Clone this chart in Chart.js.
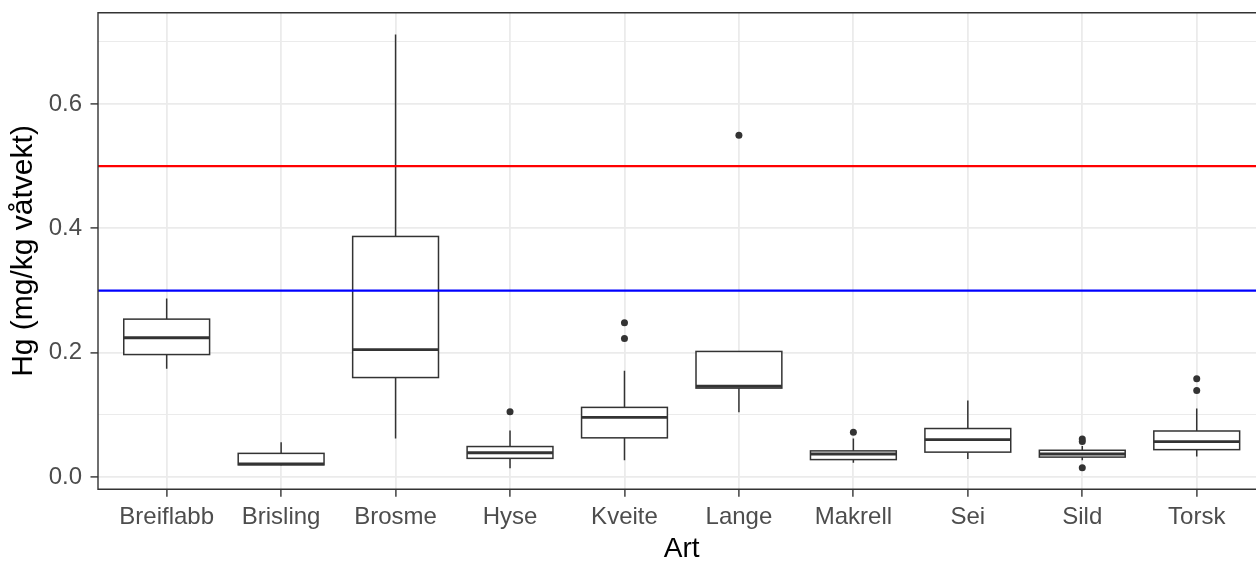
<!DOCTYPE html>
<html>
<head>
<meta charset="utf-8">
<script src="https://cdn.jsdelivr.net/npm/chart.js@4.4.1/dist/chart.umd.min.js"></script>
<style>
  html, body { margin: 0; padding: 0; background: #fff; overflow: hidden; }
  #wrap { width: 1280px; height: 563px; }
</style>
</head>
<body>
<div id="wrap"><canvas id="hgChart" width="1280" height="563"></canvas></div>
<script>
// Hg (mg/kg våtvekt) per art - boxplot stats
const species = ['Breiflabb', 'Brisling', 'Brosme', 'Hyse', 'Kveite', 'Lange', 'Makrell', 'Sei', 'Sild', 'Torsk'];
const whiskerLow  = [0.174, 0.019, 0.062, 0.014, 0.027, 0.104, 0.023, 0.029, 0.027, 0.033];
const q1          = [0.197, 0.0195, 0.160, 0.030, 0.063, 0.143, 0.028, 0.040, 0.032, 0.044];
const median      = [0.224, 0.021, 0.205, 0.039, 0.096, 0.146, 0.037, 0.060, 0.037, 0.057];
const q3          = [0.254, 0.038, 0.387, 0.049, 0.112, 0.202, 0.042, 0.078, 0.043, 0.074];
const whiskerHigh = [0.287, 0.056, 0.712, 0.075, 0.171, 0.202, 0.062, 0.123, 0.050, 0.110];

// outliers
const outlierArt = ['Hyse', 'Kveite', 'Kveite', 'Lange', 'Makrell', 'Sild', 'Sild', 'Sild', 'Torsk', 'Torsk'];
const outlierHg  = [0.105, 0.248, 0.223, 0.550, 0.072, 0.061, 0.057, 0.015, 0.158, 0.139];

// grenseverdier (horizontal lines)
const upperLimit = 0.5;
const lowerLimit = 0.3;

// axes
const yTickValues = [0.0, 0.2, 0.4, 0.6];
const yTickLabels = ['0.0', '0.2', '0.4', '0.6'];
const yMinorValues = [0.1, 0.3, 0.5, 0.7];
const yMin = -0.0198, yMax = 0.747;
const xMin = -0.6, xMax = 9.6;

const boxHalfWidth = 0.375;
const FONT = '"Liberation Sans", Arial, Helvetica, sans-serif';

function isMajor(v) {
    return yTickValues.some(t => Math.abs(t - v) < 1e-9);
}

// draws the boxes + whiskers through the chart scales
const boxPlugin = {
    id: 'boxes',
    beforeDatasetsDraw(chart) {
        const { ctx, scales: { x, y } } = chart;
        ctx.save();
        ctx.strokeStyle = '#333333';
        species.forEach((name, i) => {
            const cx = x.getPixelForValue(i);
            const left = x.getPixelForValue(i - boxHalfWidth);
            const right = x.getPixelForValue(i + boxHalfWidth);
            const top = y.getPixelForValue(q3[i]);
            const bot = y.getPixelForValue(q1[i]);

            ctx.lineWidth = 1.5;
            ctx.beginPath();
            ctx.moveTo(cx, y.getPixelForValue(whiskerHigh[i]));
            ctx.lineTo(cx, top);
            ctx.moveTo(cx, bot);
            ctx.lineTo(cx, y.getPixelForValue(whiskerLow[i]));
            ctx.stroke();

            ctx.fillStyle = '#ffffff';
            ctx.fillRect(left, top, right - left, bot - top);
            ctx.strokeRect(left, top, right - left, bot - top);

            const my = y.getPixelForValue(median[i]);
            ctx.lineWidth = 2.8;
            ctx.beginPath();
            ctx.moveTo(left, my);
            ctx.lineTo(right, my);
            ctx.stroke();
        });
        ctx.restore();
    },
    afterDraw(chart) {
        // panel border (right side falls outside the window anyway)
        const { ctx, chartArea: a } = chart;
        ctx.save();
        ctx.strokeStyle = '#333333';
        ctx.lineWidth = 1.4;
        ctx.beginPath();
        ctx.moveTo(a.right, a.top);
        ctx.lineTo(a.left, a.top);
        ctx.lineTo(a.left, a.bottom);
        ctx.lineTo(a.right, a.bottom);
        ctx.stroke();
        ctx.restore();
    }
};

const ctx = document.getElementById('hgChart');

new Chart(ctx, {
    type: 'scatter',
    data: {
        datasets: [
            {
                label: 'outliers',
                data: outlierArt.map((a, k) => ({ x: species.indexOf(a), y: outlierHg[k] })),
                pointRadius: 3.5,
                pointBackgroundColor: '#333333',
                pointBorderWidth: 0
            },
            {
                label: 'upper',
                data: [{ x: xMin, y: upperLimit }, { x: xMax, y: upperLimit }],
                showLine: true,
                borderColor: '#FF0000',
                borderWidth: 2.2,
                pointRadius: 0
            },
            {
                label: 'lower',
                data: [{ x: xMin, y: lowerLimit }, { x: xMax, y: lowerLimit }],
                showLine: true,
                borderColor: '#0000FF',
                borderWidth: 2.2,
                pointRadius: 0
            }
        ]
    },
    options: {
        responsive: false,
        devicePixelRatio: 1,
        animation: false,
        layout: { padding: { left: 0, top: 12.7, right: 14.6, bottom: 0 } },
        plugins: {
            legend: { display: false },
            tooltip: { enabled: false }
        },
        scales: {
            x: {
                type: 'linear',
                min: xMin,
                max: xMax,
                afterBuildTicks: (scale) => { scale.ticks = species.map((_, i) => ({ value: i })); },
                afterFit: (scale) => { scale.height = 73.7; },
                border: { display: false },
                grid: {
                    color: '#EBEBEB',
                    lineWidth: 1.8,
                    tickColor: '#333333',
                    tickLength: 7.5,
                    tickWidth: 1.4
                },
                ticks: {
                    autoSkip: false,
                    maxRotation: 0,
                    padding: 6,
                    color: '#4D4D4D',
                    font: { family: FONT, size: 24 },
                    callback: (v) => species[v]
                },
                title: {
                    display: true,
                    text: 'Art',
                    color: '#000000',
                    font: { family: FONT, size: 28, lineHeight: 1 },
                    padding: { top: 0, bottom: 0 }
                }
            },
            y: {
                min: yMin,
                max: yMax,
                afterBuildTicks: (scale) => {
                    scale.ticks = yTickValues.concat(yMinorValues).sort((a, b) => a - b).map(v => ({ value: v }));
                },
                afterFit: (scale) => { scale.width = 98; },
                border: { display: false },
                grid: {
                    color: '#EBEBEB',
                    lineWidth: (c) => (c.tick && isMajor(c.tick.value)) ? 1.8 : 1.1,
                    tickColor: (c) => (c.tick && isMajor(c.tick.value)) ? '#333333' : 'rgba(0,0,0,0)',
                    tickLength: 7.5,
                    tickWidth: 1.4
                },
                ticks: {
                    padding: 8.5,
                    color: '#4D4D4D',
                    font: { family: FONT, size: 24, lineHeight: 0.2 },
                    callback: (v) => {
                        const k = yTickValues.findIndex(t => Math.abs(t - v) < 1e-9);
                        return k >= 0 ? yTickLabels[k] : '';
                    }
                },
                title: {
                    display: true,
                    text: 'Hg (mg/kg våtvekt)',
                    color: '#000000',
                    font: { family: FONT, size: 30 },
                    padding: { top: 6, bottom: 0 }
                }
            }
        }
    },
    plugins: [boxPlugin]
});
</script>
</body>
</html>
